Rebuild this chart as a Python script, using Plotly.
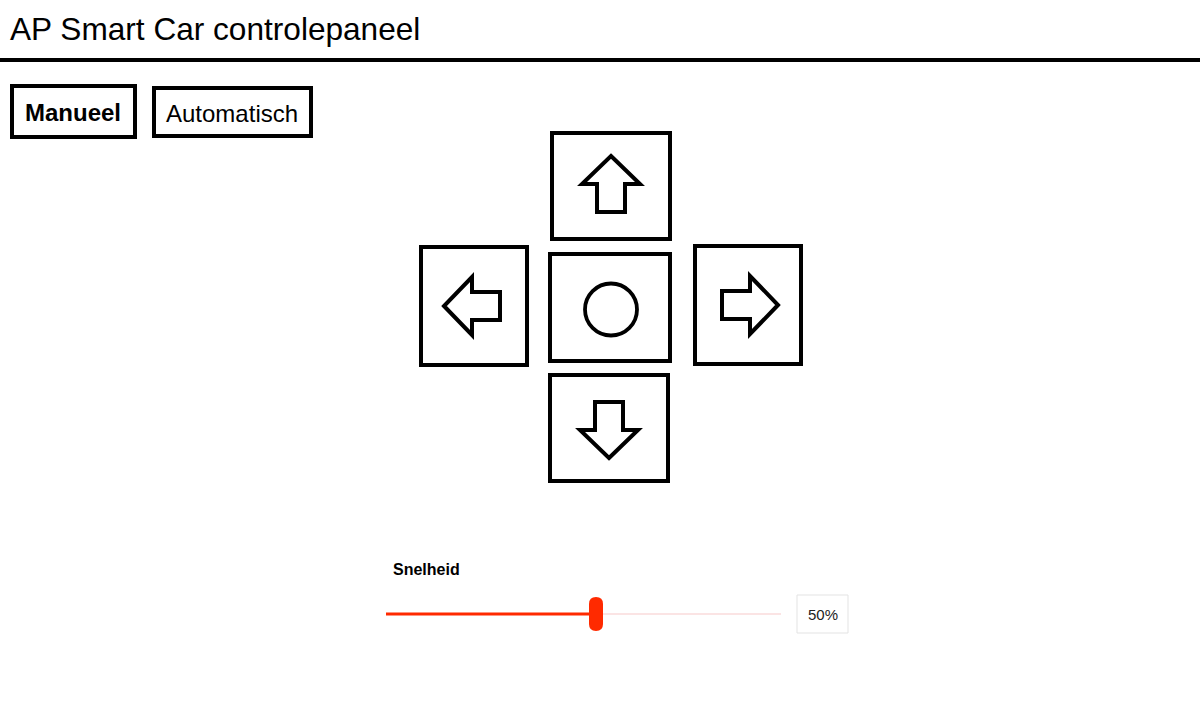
import plotly.graph_objects as go


TITLE = "AP Smart Car controlepaneel"
MODES = ["Manueel", "Automatisch"]
ACTIVE_MODE = "Manueel"
CONTROLS = ["up", "left", "stop", "right", "down"]
SPEED_LABEL = "Snelheid"
SPEED_MIN = 0
SPEED_MAX = 100
SPEED_VALUE = 50

# page geometry, in pixels with y growing downward
WIDTH, HEIGHT = 1200, 720
FONT = "Liberation Sans, Arial, sans-serif"
INK = "#000000"
RED = "#ff2a00"
TRACK_OFF = "#fbe4e4"

HEADER_Y = 60
MODE_BOXES = {
    "Manueel": (12, 86, 135, 137),
    "Automatisch": (154, 88, 311, 136),
}
CONTROL_BOXES = {
    "up": (552, 133, 670, 239),
    "left": (421, 247, 527, 365),
    "stop": (550, 254, 670, 361),
    "right": (695, 246, 801, 364),
    "down": (550, 375, 668, 481),
}
# arrow pointing up, relative to the box centre
ARROW = [(0, -30), (29, -2), (14, -2), (14, 26), (-14, 26), (-14, -2), (-29, -2)]
ROTATE = {
    "up": lambda x, y: (x, y),
    "left": lambda x, y: (y, x),
    "right": lambda x, y: (-y, x),
    "down": lambda x, y: (x, -y),
}
STOP_RADIUS = 26

TRACK_X0, TRACK_X1, TRACK_Y = 386, 781, 614
THUMB_TRAVEL = 420
THUMB_W, THUMB_H = 14, 34
VALUE_BOX = (797, 595, 848, 633)


def speed_px(v):
    return TRACK_X0 + (v - SPEED_MIN) / (SPEED_MAX - SPEED_MIN) * THUMB_TRAVEL


def rect(x0, y0, x1, y1, width=4, color=INK):
    return dict(type="rect", x0=x0, y0=y0, x1=x1, y1=y1,
                line=dict(color=color, width=width), xref="x", yref="y")


def build_figure():
    fig = go.Figure()
    shapes = []
    annotations = []

    annotations.append(dict(
        text=TITLE, x=8, y=29, xanchor="left", yanchor="middle",
        showarrow=False, font=dict(size=31.6, color=INK, family=FONT),
    ))
    shapes.append(dict(type="line", x0=0, x1=WIDTH, y0=HEADER_Y, y1=HEADER_Y,
                       line=dict(color=INK, width=4)))

    for mode in MODES:
        x0, y0, x1, y1 = MODE_BOXES[mode]
        shapes.append(rect(x0, y0, x1, y1))
        annotations.append(dict(
            text=mode, x=(x0 + x1) / 2 - 1, y=(y0 + y1) / 2 + 1,
            xanchor="center", yanchor="middle", showarrow=False,
            font=dict(size=24, color=INK, family=FONT,
                      weight="bold" if mode == ACTIVE_MODE else "normal"),
        ))

    for ctrl in CONTROLS:
        x0, y0, x1, y1 = CONTROL_BOXES[ctrl]
        cx, cy = (x0 + x1) / 2, (y0 + y1) / 2
        shapes.append(rect(x0, y0, x1, y1))
        if ctrl == "stop":
            shapes.append(dict(
                type="circle", x0=cx + 1 - STOP_RADIUS, x1=cx + 1 + STOP_RADIUS,
                y0=cy + 2 - STOP_RADIUS, y1=cy + 2 + STOP_RADIUS,
                line=dict(color=INK, width=3.8)))
        else:
            pts = [ROTATE[ctrl](px, py) for px, py in ARROW]
            path = "M " + " L ".join(f"{cx + px},{cy + py}" for px, py in pts) + " Z"
            shapes.append(dict(type="path", path=path,
                               line=dict(color=INK, width=4)))

    # speed slider
    annotations.append(dict(
        text=SPEED_LABEL, x=391, y=569, xanchor="left", yanchor="middle",
        showarrow=False, font=dict(size=16, color=INK, family=FONT, weight="bold"),
    ))
    thumb_x = speed_px(SPEED_VALUE)
    fig.add_trace(go.Scatter(
        x=[TRACK_X0, TRACK_X1], y=[TRACK_Y, TRACK_Y], mode="lines",
        line=dict(color=TRACK_OFF, width=2), hoverinfo="skip",
    ))
    fig.add_trace(go.Scatter(
        x=[speed_px(SPEED_MIN), thumb_x], y=[TRACK_Y, TRACK_Y], mode="lines",
        line=dict(color=RED, width=3), hoverinfo="skip",
    ))
    r = THUMB_W / 2
    tx0, tx1 = thumb_x - r, thumb_x + r
    ty0, ty1 = TRACK_Y - THUMB_H / 2, TRACK_Y + THUMB_H / 2
    thumb = (f"M {tx0},{ty0 + r} Q {tx0},{ty0} {thumb_x},{ty0} Q {tx1},{ty0} {tx1},{ty0 + r} "
             f"L {tx1},{ty1 - r} Q {tx1},{ty1} {thumb_x},{ty1} Q {tx0},{ty1} {tx0},{ty1 - r} Z")
    shapes.append(dict(type="path", path=thumb, fillcolor=RED,
                       line=dict(color=RED, width=0), layer="above"))

    vx0, vy0, vx1, vy1 = VALUE_BOX
    shapes.append(dict(type="rect", x0=vx0, y0=vy0, x1=vx1, y1=vy1,
                       line=dict(color="#e3e3e3", width=1), fillcolor="white"))
    annotations.append(dict(
        text=f"{SPEED_VALUE}%", x=(vx0 + vx1) / 2, y=(vy0 + vy1) / 2,
        xanchor="center", yanchor="middle", showarrow=False,
        font=dict(size=15, color="#222222", family=FONT),
    ))

    fig.update_layout(
        width=WIDTH,
        height=HEIGHT,
        margin=dict(l=0, r=0, t=0, b=0),
        paper_bgcolor="white",
        plot_bgcolor="white",
        showlegend=False,
        shapes=shapes,
        annotations=annotations,
        font=dict(family=FONT),
    )
    fig.update_xaxes(range=[0, WIDTH], visible=False, fixedrange=True)
    fig.update_yaxes(range=[HEIGHT, 0], visible=False, fixedrange=True)
    return fig


fig = build_figure()
fig.write_html(
    "out.html",
    config={"displayModeBar": False, "staticPlot": True},
    post_script="document.body.style.margin='0';",
)
